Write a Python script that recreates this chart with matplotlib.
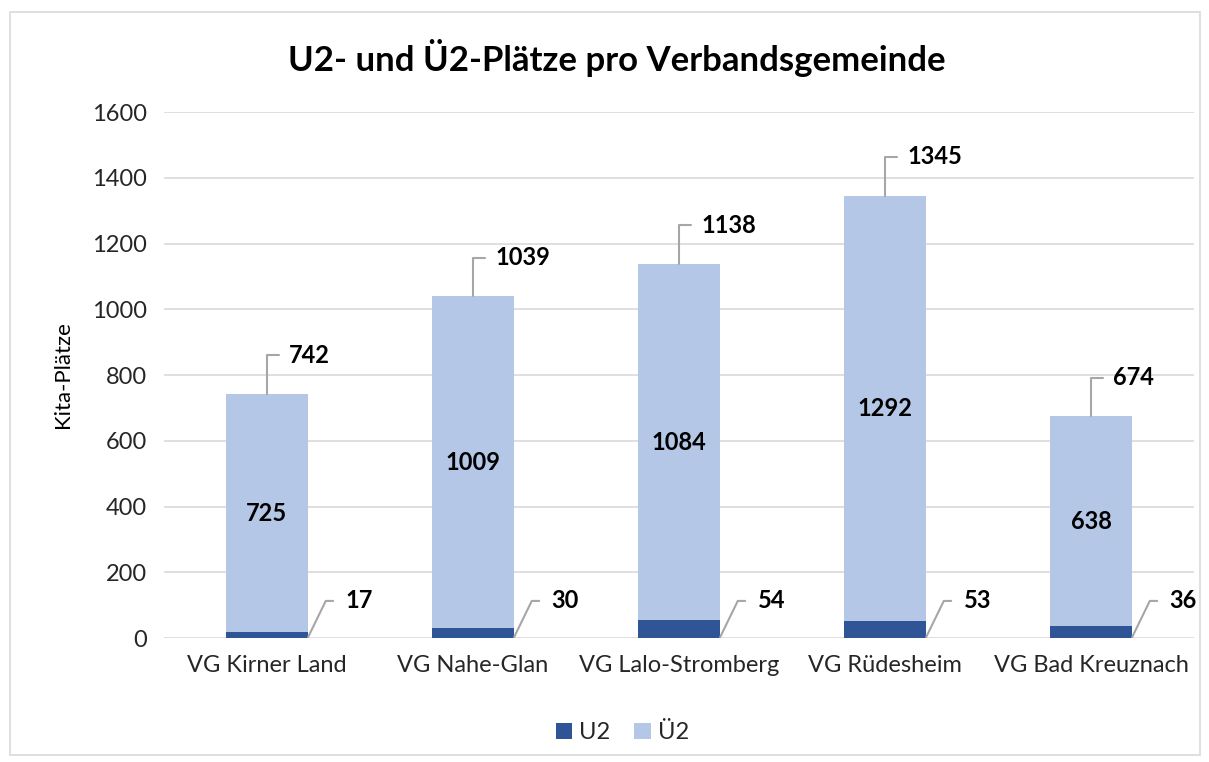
import matplotlib.pyplot as plt
from matplotlib.patches import Rectangle

# data
gemeinden = ["VG Kirner Land", "VG Nahe-Glan", "VG Lalo-Stromberg", "VG Rüdesheim", "VG Bad Kreuznach"]
u2 = [17, 30, 54, 53, 36]
ue2 = [725, 1009, 1084, 1292, 638]
gesamt = [742, 1039, 1138, 1345, 674]

dark = '#2F5597'
light = '#B4C7E7'
grey_line = '#A6A6A6'
text_col = '#262626'

plt.rcParams['font.family'] = ['Lato', 'DejaVu Sans']

fig = plt.figure(figsize=(12.09, 7.62), dpi=100)
ax = fig.add_axes([0.1356, 0.1627, 0.852, 0.6903])

# chart border
fig.patches.append(Rectangle((10 / 1209, 1 - 755 / 762), 1190 / 1209, 743 / 762,
                             transform=fig.transFigure, fill=False,
                             edgecolor='#D9D9D9', linewidth=1.2))

x = list(range(len(gemeinden)))
w = 0.4
ax.bar(x, u2, width=w, color=dark, label='U2', zorder=3)
ax.bar(x, ue2, width=w, bottom=u2, color=light, label='Ü2', zorder=3)

ax.set_xlim(-0.5, len(gemeinden) - 0.5)
ax.set_ylim(0, 1600)
ax.set_yticks(range(0, 1601, 200))
ax.grid(axis='y', color='#D9D9D9', linewidth=1.2, zorder=0)
for s in ax.spines.values():
    s.set_visible(False)
ax.tick_params(axis='both', length=0, labelsize=17, colors=text_col)
ax.tick_params(axis='y', pad=12)
ax.tick_params(axis='x', pad=12)
ax.set_xticks(x)
ax.set_xticklabels(gemeinden)
ax.set_ylabel('Kita-Plätze', fontsize=16, color='black', labelpad=14)

lbl = dict(fontsize=17, fontweight='bold', color='black')

for i in x:
    # value inside the Ü2 segment
    ax.text(i, u2[i] + ue2[i] / 2, str(ue2[i]), ha='center', va='center', zorder=4, **lbl)
    # total above the bar, leader line up then right
    ax.annotate(str(gesamt[i]), xy=(i, gesamt[i]), xytext=(16, 28),
                textcoords='offset points', ha='left', va='center', zorder=4,
                arrowprops=dict(arrowstyle='-', color=grey_line, lw=1.5,
                                connectionstyle='angle,angleA=0,angleB=90,rad=0',
                                relpos=(0, 0.5), shrinkA=5, shrinkB=0), **lbl)
    # U2 value to the right, diagonal leader
    ax.annotate(str(u2[i]), xy=(i + w / 2, 3), xytext=(27, 26),
                textcoords='offset points', ha='left', va='center', zorder=4,
                arrowprops=dict(arrowstyle='-', color=grey_line, lw=1.5,
                                connectionstyle='angle,angleA=0,angleB=64,rad=0',
                                relpos=(0, 0.5), shrinkA=7, shrinkB=0), **lbl)

fig.text(0.51, 1 - 58 / 762, 'U2- und Ü2-Plätze pro Verbandsgemeinde', ha='center', va='center',
         fontsize=25, fontweight='bold', color='black')

leg = ax.legend(loc='upper center', bbox_to_anchor=(0.445, -0.12), ncol=2, frameon=False,
                fontsize=17, handlelength=0.7, handleheight=0.7, handletextpad=0.3,
                columnspacing=1.0)
for t in leg.get_texts():
    t.set_color(text_col)

fig.savefig('out.png', dpi=100)
